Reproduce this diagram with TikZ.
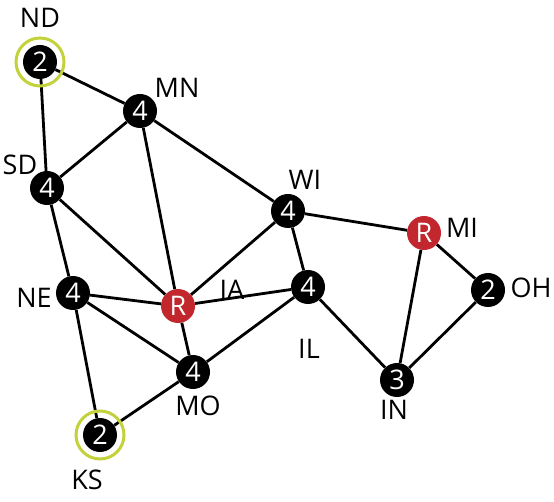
\documentclass[tikz,border=0pt]{standalone}
\usepackage{fontspec}
\setmainfont{Open Sans}
\definecolor{rred}{HTML}{C1272D}
\definecolor{ring}{HTML}{C3D23A}
\begin{document}
\begin{tikzpicture}[x=1pt,y=-1pt,
  st/.style={circle,fill=black,text=white,inner sep=0pt,minimum size=34pt,font=\fontsize{27}{27}\selectfont},
  rs/.style={st,fill=rred},
  lab/.style={font=\fontsize{27}{27}\selectfont,inner sep=0pt},
  edge/.style={line width=2.8pt}]
\useasboundingbox (0,0) rectangle (554,502);
\node[st] (ND) at (40,62) {2};
\node[st] (MN) at (140,111) {4};
\node[st] (SD) at (47,188) {4};
\node[st] (WI) at (288,211) {4};
\node[rs] (MI) at (424,233) {R};
\node[st] (OH) at (488,290) {2};
\node[rs] (IA) at (178,306) {R};
\node[st] (NE) at (73,293) {4};
\node[st] (IL) at (308,287) {4};
\node[st] (IN) at (397,380) {3};
\node[st] (MO) at (193,372) {4};
\node[st] (KS) at (100,435) {2};
\foreach \a/\b in {ND/MN,ND/SD,MN/SD,MN/IA,MN/WI,SD/IA,SD/NE,WI/IA,WI/MI,WI/IL,MI/OH,MI/IN,OH/IN,IA/NE,IA/IL,IA/MO,NE/MO,NE/KS,MO/IL,MO/KS,IL/IN}
  \draw[edge] (\a) -- (\b);
\draw[ring,line width=3pt] (ND.center) circle (24);
\draw[ring,line width=3pt] (KS.center) circle (24);
\node[lab] (lND) at (40,18) {ND};
\node[lab] (lMN) at (177,88) {MN};
\node[lab] (lSD) at (20,165) {SD};
\node[lab] (lWI) at (305,180) {WI};
\node[lab] (lMI) at (462,228) {MI};
\node[lab] (lOH) at (531,288) {OH};
\node[lab] (lIA) at (232,290) {IA};
\node[lab] (lNE) at (34,298) {NE};
\node[lab] (lIL) at (309,349) {IL};
\node[lab] (lIN) at (394,410) {IN};
\node[lab] (lMO) at (198,406) {MO};
\node[lab] (lKS) at (87,480) {KS};
\end{tikzpicture}
\end{document}
